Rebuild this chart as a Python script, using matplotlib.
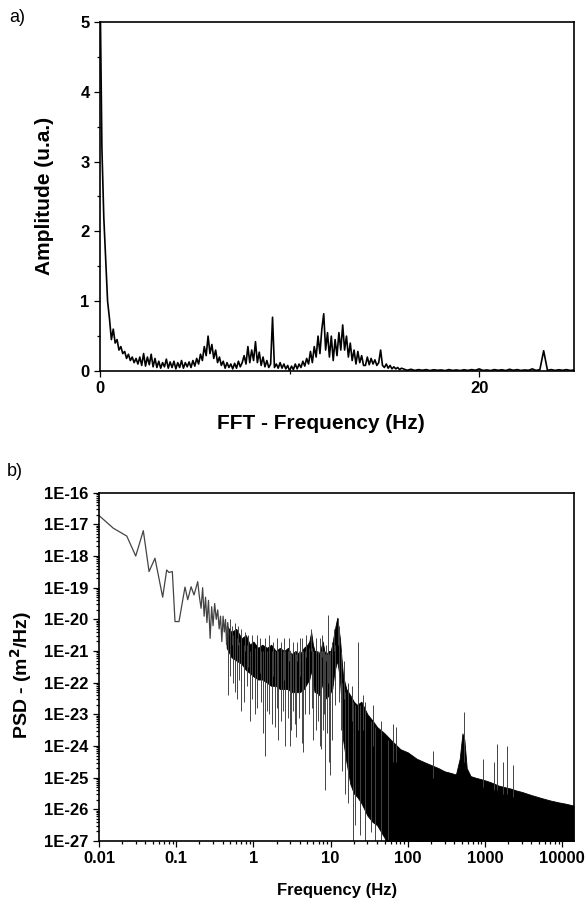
import numpy as np
import matplotlib
matplotlib.use("Agg")
import matplotlib.pyplot as plt
from matplotlib.ticker import FixedLocator, FuncFormatter, LogLocator, NullFormatter

plt.rcParams['font.family'] = ['Liberation Sans', 'DejaVu Sans']

# ---- a) FFT amplitude ----
# 0.0 .. 15.9 Hz, every 0.1 Hz
fft_step_low = 0.1
fft_amp_low = [
    5.6, 3.2, 2.2, 1.6, 1.0, 0.75, 0.45, 0.6, 0.4, 0.45,
    0.3, 0.35, 0.25, 0.28, 0.18, 0.24, 0.15, 0.2, 0.12, 0.18,
    0.1, 0.2, 0.08, 0.25, 0.07, 0.2, 0.09, 0.24, 0.06, 0.18,
    0.05, 0.14, 0.04, 0.12, 0.06, 0.17, 0.04, 0.13, 0.05, 0.14,
    0.03, 0.12, 0.05, 0.15, 0.04, 0.12, 0.06, 0.13, 0.05, 0.15,
    0.07, 0.18, 0.1, 0.24, 0.15, 0.35, 0.22, 0.5, 0.25, 0.38,
    0.18, 0.3, 0.12, 0.2, 0.08, 0.14, 0.04, 0.12, 0.05, 0.1,
    0.03, 0.11, 0.04, 0.14, 0.06, 0.12, 0.22, 0.1, 0.35, 0.12,
    0.3, 0.15, 0.42, 0.12, 0.27, 0.08, 0.2, 0.06, 0.15, 0.05,
    0.1, 0.77, 0.05, 0.1, 0.04, 0.12, 0.04, 0.1, 0.03, 0.08,
    0.0, 0.07, 0.02, 0.1, 0.03, 0.1, 0.05, 0.14, 0.07, 0.18,
    0.1, 0.28, 0.12, 0.35, 0.2, 0.5, 0.25, 0.6, 0.82, 0.3,
    0.55, 0.2, 0.5, 0.15, 0.45, 0.22, 0.55, 0.3, 0.66, 0.3,
    0.5, 0.2, 0.4, 0.15, 0.3, 0.1, 0.28, 0.12, 0.22, 0.08,
    0.08, 0.2, 0.09, 0.18, 0.1, 0.16, 0.08, 0.12, 0.3, 0.08,
    0.05, 0.1, 0.04, 0.08, 0.03, 0.06, 0.03, 0.05, 0.02, 0.04,
]
# 16.0 .. 25.0 Hz, every 0.2 Hz
fft_start_high = 16.0
fft_step_high = 0.2
fft_amp_high = [
    0.03, 0.01, 0.025, 0.008, 0.02, 0.01, 0.02, 0.006, 0.018, 0.01,
    0.015, 0.005, 0.02, 0.008, 0.015, 0.006, 0.018, 0.008, 0.02, 0.01,
    0.03, 0.008, 0.015, 0.006, 0.02, 0.01, 0.018, 0.006, 0.025, 0.01,
    0.02, 0.008, 0.015, 0.01, 0.03, 0.008, 0.02, 0.29, 0.01, 0.02,
    0.008, 0.018, 0.01, 0.02, 0.008, 0.015,
]

# ---- b) PSD, log10 values ----
psd_lf_freq = [0.0101, 0.0153, 0.0229, 0.0299, 0.0375, 0.0445, 0.0531, 0.0668,
               0.0753, 0.0807, 0.0891, 0.0965, 0.1087, 0.130, 0.141, 0.156,
               0.170, 0.190, 0.200, 0.210, 0.220, 0.230, 0.240, 0.250, 0.262,
               0.275, 0.288, 0.300, 0.315, 0.330, 0.345, 0.360, 0.375, 0.390,
               0.405, 0.420, 0.435, 0.450, 0.465, 0.480]
psd_lf_log = [-16.73, -17.12, -17.37, -18.0, -17.2, -18.49, -18.07, -19.3,
              -18.44, -18.52, -18.49, -20.07, -20.07, -18.98, -19.38, -18.97,
              -19.23, -18.81, -19.3, -19.65, -19.0, -19.9, -19.3, -20.1, -19.4,
              -20.6, -19.6, -20.2, -19.5, -20.0, -19.7, -20.3, -19.9, -20.7,
              -19.9, -20.4, -20.0, -20.8, -20.1, -20.5]

# dense black band (upper / lower edge)
band_freq = [0.45, 0.52, 0.6, 0.7, 0.8, 0.9, 1.0, 1.15, 1.3, 1.5, 1.7, 1.95,
             2.2, 2.5, 2.8, 3.1, 3.5, 4.0, 4.5, 5.0, 5.3, 5.6, 5.9, 6.2, 6.6,
             7.0, 7.5, 7.9, 8.3, 8.8, 9.4, 10.0, 10.5, 11.0, 11.6, 12.2, 12.7,
             13.2, 13.8, 14.5, 16.0, 18.0, 20.0, 22.0, 25.0, 30.0, 35.0, 40.0,
             50.0, 60.0, 80.0, 100.0, 130.0, 160.0, 200.0, 250.0, 300.0, 360.0,
             420.0, 470.0, 510.0, 540.0, 580.0, 650.0, 750.0, 900.0, 1050.0,
             1200.0, 1500.0, 1800.0, 2200.0, 2500.0, 3000.0, 4000.0, 5500.0,
             7000.0, 9000.0, 11000.0, 14000.0]
band_hi = [-20.2, -20.4, -20.3, -20.6, -20.5, -20.8, -20.7, -20.9, -20.8, -20.9,
           -20.8, -21.0, -20.9, -21.0, -20.9, -21.1, -21.0, -21.1, -20.9, -20.8,
           -20.7, -20.4, -20.8, -21.0, -21.0, -21.1, -20.9, -20.7, -21.0, -21.1,
           -21.0, -21.0, -20.8, -20.5, -20.2, -19.95, -20.3, -20.6, -21.2, -21.8,
           -22.2, -22.4, -22.6, -22.7, -22.6, -23.0, -23.2, -23.4, -23.6, -23.8,
           -24.1, -24.2, -24.4, -24.5, -24.6, -24.7, -24.8, -24.85, -24.9, -24.4,
           -23.6, -23.8, -24.7, -24.95, -25.0, -25.05, -25.1, -25.15, -25.25,
           -25.3, -25.35, -25.4, -25.45, -25.55, -25.65, -25.72, -25.78, -25.82,
           -25.88]
band_lo = [-20.9, -21.2, -21.3, -21.4, -21.6, -21.7, -21.8, -21.9, -21.9, -22.0,
           -22.1, -22.1, -22.2, -22.2, -22.2, -22.3, -22.3, -22.3, -22.2, -22.0,
           -21.9, -21.6, -22.0, -22.3, -22.3, -22.4, -22.2, -22.0, -22.3, -22.5,
           -22.4, -22.3, -22.2, -21.8, -21.5, -21.3, -21.6, -21.9, -22.6, -23.8,
           -24.5, -25.2, -25.5, -25.6, -25.8, -26.2, -26.4, -26.5, -26.9, -27.5,
           -28.0, -28.0, -28.0, -28.0, -28.0, -28.0, -28.0, -28.0, -28.0, -28.0,
           -28.0, -28.0, -28.0, -28.0, -28.0, -28.0, -28.0, -28.0, -28.0, -28.0,
           -28.0, -28.0, -28.0, -28.0, -28.0, -28.0, -28.0, -28.0, -28.0]

# downward noise dips
dip_freq = [0.47, 0.5, 0.55, 0.58, 0.62, 0.66, 0.7, 0.75, 0.82, 0.9, 0.95, 1.05,
            1.1, 1.25, 1.35, 1.4, 1.5, 1.6, 1.75, 1.9, 2.0, 2.1, 2.3, 2.45, 2.6,
            2.8, 2.95, 3.1, 3.3, 3.45, 3.6, 3.9, 4.2, 4.4, 4.7, 5.2, 5.8, 6.0,
            6.5, 6.8, 7.2, 7.6, 8.0, 8.2, 8.5, 9.0, 9.5, 9.8, 10.5, 11.3, 13.0,
            13.5, 14.0, 15.5, 17.0, 19.5, 21.0, 24.0, 28.0, 33.0, 38.0, 45.0, 55.0]
dip_from = [-20.5, -20.6, -20.5, -20.6, -20.6, -20.7, -20.7, -20.8, -20.8, -21.0,
            -20.9, -20.9, -21.0, -21.0, -21.0, -21.0, -21.0, -21.0, -21.0, -21.0,
            -21.0, -21.0, -21.0, -21.0, -21.0, -21.0, -21.0, -21.1, -21.0, -21.0,
            -21.1, -21.0, -21.0, -21.0, -21.0, -20.9, -20.9, -21.0, -21.1, -21.0,
            -21.1, -21.0, -21.0, -21.0, -21.1, -21.1, -21.1, -21.0, -21.0, -20.8,
            -20.6, -21.0, -22.0, -22.3, -22.4, -22.6, -22.7, -22.7, -22.9, -23.2,
            -23.4, -23.6, -23.8]
dip_to = [-22.4, -21.8, -22.0, -22.3, -22.5, -21.9, -22.9, -22.6, -22.1, -23.2,
          -22.5, -23.0, -22.8, -22.6, -23.6, -24.3, -22.9, -23.0, -23.3, -23.4,
          -22.8, -23.8, -23.2, -22.9, -24.0, -23.1, -24.0, -23.5, -22.9, -23.3,
          -23.7, -23.1, -23.9, -24.2, -23.0, -23.0, -22.8, -23.8, -23.5, -23.2,
          -24.0, -24.1, -23.5, -23.0, -25.4, -23.6, -24.5, -24.9, -23.8, -22.7,
          -22.6, -23.5, -24.8, -25.5, -25.8, -27.5, -26.5, -26.8, -27.2, -26.7,
          -27.5, -27.3, -27.5]

# upward noise spikes
spike_freq = [0.5, 0.53, 0.58, 0.63, 0.7, 0.78, 0.85, 0.95, 1.1, 1.2, 1.4, 1.6,
              1.8, 2.0, 2.3, 2.5, 2.9, 3.3, 3.7, 4.0, 4.3, 4.8, 5.5, 6.4, 7.3,
              7.8, 8.6, 9.2, 10.3, 11.2, 12.5, 12.8, 15.0, 17.0, 19.0, 22.9,
              26.0, 28.0, 35.0, 45.0, 65.0, 70.0, 210.0, 528.0, 950.0, 1300.0,
              1450.0, 1700.0, 1920.0, 2300.0]
spike_from = [-21.0, -20.8, -21.0, -20.8, -21.3, -21.0, -21.5, -21.2, -21.3, -21.7,
              -21.3, -21.3, -21.8, -21.3, -21.3, -21.9, -21.3, -21.9, -21.3, -21.8,
              -21.3, -21.2, -21.0, -21.3, -21.3, -21.2, -21.3, -22.0, -21.2, -21.0,
              -20.8, -20.8, -22.5, -23.0, -23.2, -23.5, -23.5, -23.6, -24.0, -24.2,
              -24.5, -24.5, -25.0, -24.5, -25.3, -25.4, -25.4, -25.5, -25.5, -25.6]
spike_to = [-20.0, -20.2, -20.1, -20.2, -20.3, -20.4, -20.5, -20.5, -20.5, -20.6,
            -20.6, -20.5, -20.7, -20.6, -20.7, -20.6, -20.6, -20.7, -20.7, -20.6,
            -20.6, -20.5, -20.3, -20.6, -20.6, -20.5, -20.8, -19.86, -20.7, -20.3,
            -19.95, -20.2, -21.3, -22.0, -22.1, -20.73, -22.4, -22.6, -22.7, -23.2,
            -23.3, -23.4, -24.17, -22.93, -24.4, -24.5, -23.93, -24.5, -23.99, -24.6]

fft_freq = np.concatenate([np.arange(len(fft_amp_low)) * fft_step_low,
                           fft_start_high + np.arange(len(fft_amp_high)) * fft_step_high])
fft_amp = np.array(fft_amp_low + fft_amp_high)

W, H = 586, 905
fig = plt.figure(figsize=(W / 100, H / 100), dpi=100)


def style(ax):
    for s in ax.spines.values():
        s.set_linewidth(1.2)
    ax.tick_params(which='both', direction='out', top=False, right=False, width=0.9)
    ax.tick_params(which='major', length=4, labelsize=12)
    ax.tick_params(which='minor', length=2.5)
    for lab in ax.get_xticklabels() + ax.get_yticklabels():
        lab.set_fontweight('bold')


# a)
ax1 = fig.add_axes([100 / W, 1 - 371 / H, 474 / W, 349 / H])
ax1.plot(fft_freq, fft_amp, color='black', lw=1.2)
ax1.set_xlim(0, 25)
ax1.set_ylim(0, 5)
ax1.xaxis.set_major_locator(FixedLocator([0, 20]))
ax1.xaxis.set_minor_locator(FixedLocator([10]))
ax1.yaxis.set_major_locator(FixedLocator([0, 1, 2, 3, 4, 5]))
ax1.yaxis.set_minor_locator(FixedLocator([0.5, 1.5, 2.5, 3.5, 4.5]))
style(ax1)

# b)
ax2 = fig.add_axes([99 / W, 1 - 841 / H, 474.5 / W, 348.3 / H])
ax2.set_xscale('log')
ax2.set_yscale('log')
ax2.fill_between(band_freq, 10.0 ** np.array(band_lo), 10.0 ** np.array(band_hi),
                 color='black', lw=0.6, edgecolor='black')
ax2.vlines(dip_freq, 10.0 ** np.array(dip_from), 10.0 ** np.array(dip_to),
           color='#444444', lw=0.7)
ax2.vlines(spike_freq, 10.0 ** np.array(spike_from), 10.0 ** np.array(spike_to),
           color='#444444', lw=0.7)
ax2.plot(psd_lf_freq, 10.0 ** np.array(psd_lf_log), color='#444444', lw=0.9)
ax2.set_xlim(0.01, 14000)
ax2.set_ylim(1e-27, 1e-16)
ax2.xaxis.set_major_locator(FixedLocator([0.01, 0.1, 1, 10, 100, 1000, 10000]))
ax2.xaxis.set_major_formatter(FuncFormatter(lambda v, p: '%g' % v))
ax2.xaxis.set_minor_locator(LogLocator(base=10, subs=np.arange(2, 10), numticks=20))
ax2.xaxis.set_minor_formatter(NullFormatter())
ax2.yaxis.set_major_locator(FixedLocator(10.0 ** np.arange(-27, -15)))
ax2.yaxis.set_major_formatter(FuncFormatter(lambda v, p: '1E%d' % round(np.log10(v))))
ax2.yaxis.set_minor_locator(LogLocator(base=10, subs=np.arange(2, 10), numticks=30))
ax2.yaxis.set_minor_formatter(NullFormatter())
style(ax2)

top_lab = dict(fontweight='bold', fontsize=15)
bot_lab = dict(fontweight='bold', fontsize=12)
fig.text(45 / W, 1 - 196 / H, 'Amplitude (u.a.)', rotation=90, ha='center', va='center', **top_lab)
fig.text(321 / W, 1 - 423 / H, 'FFT - Frequency (Hz)', ha='center', va='center', **top_lab)
fig.text(21 / W, 1 - 675 / H, 'PSD - (m$^\\mathbf{2}$/Hz)', rotation=90, ha='center', va='center',
         fontweight='bold', fontsize=14)
fig.text(337 / W, 1 - 890 / H, 'Frequency (Hz)', ha='center', va='center', **bot_lab)
fig.text(17 / W, 1 - 18 / H, 'a)', ha='center', va='center', fontsize=13)
fig.text(15 / W, 1 - 471 / H, 'b)', ha='center', va='center', fontsize=13)

fig.savefig('out.png', dpi=100)
